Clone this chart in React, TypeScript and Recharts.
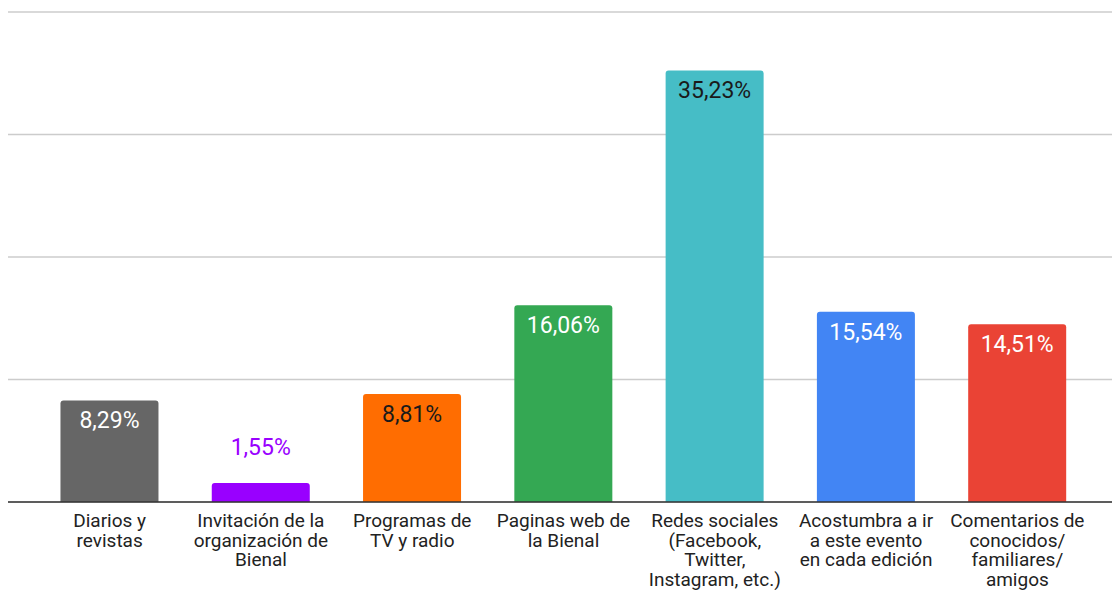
import { BarChart, Bar, XAxis, YAxis, CartesianGrid, Cell, LabelList } from "recharts"

const categories = [
    "Diarios y\nrevistas",
    "Invitación de la\norganización de\nBienal",
    "Programas de\nTV y radio",
    "Paginas web de\nla Bienal",
    "Redes sociales\n(Facebook,\nTwitter,\nInstagram, etc.)",
    "Acostumbra a ir\na este evento\nen cada edición",
    "Comentarios de\nconocidos/\nfamiliares/\namigos"
]

const values = [8.29, 1.55, 8.81, 16.06, 35.23, 15.54, 14.51]
const valueLabels = ["8,29%", "1,55%", "8,81%", "16,06%", "35,23%", "15,54%", "14,51%"]
const yTicks = [0, 10, 20, 30, 40]

const barColors = ["#666666", "#9900ff", "#ff6d01", "#34a853", "#46bdc6", "#4285f4", "#ea4335"]
const labelColors = ["#ffffff", "#9900ff", "#1a1a1a", "#ffffff", "#1a1a1a", "#ffffff", "#ffffff"]

const data = categories.map((c, i) => ({ name: c, value: values[i], label: valueLabels[i] }))

const FONT = "Roboto, Arial, sans-serif"

function CategoryTick(props: any) {
    const { x, y, payload } = props
    const lines = String(payload.value).split("\n")
    return (
        <text x={x} y={y} textAnchor="middle" fill="#222222" fontSize={19} fontFamily={FONT}>
            {lines.map((ln, i) => (
                <tspan key={i} x={x} dy={i === 0 ? 17 : 19.5}>{ln}</tspan>
            ))}
        </text>
    )
}

function ValueLabel(props: any) {
    const { x, y, width, height, index } = props
    const cx = x + width / 2
    const inside = height > 40
    return (
        <text
            x={cx}
            y={inside ? y + 28 : y - 28}
            textAnchor="middle"
            fill={inside ? labelColors[index] : barColors[index]}
            fontSize={23}
            fontFamily={FONT}
        >
            {valueLabels[index]}
        </text>
    )
}

export default function App() {
    return (
        <div style={{ position: "fixed", left: 0, top: 0, width: 1112, height: 590, background: "#fff" }}>
            <BarChart
                width={1112}
                height={590}
                data={data}
                margin={{ top: 12, right: 0, left: 8, bottom: 0 }}
                barCategoryGap="17.5%"
            >
                <CartesianGrid horizontal vertical={false} stroke="#cccccc" strokeWidth={1.5} />
                <YAxis hide domain={[0, 40]} ticks={yTicks} />
                <XAxis
                    dataKey="name"
                    interval={0}
                    height={88}
                    tickLine={false}
                    axisLine={{ stroke: "#333333", strokeWidth: 1.5 }}
                    padding={{ left: 26, right: 19 }}
                    tick={<CategoryTick />}
                />
                <Bar dataKey="value" radius={[3, 3, 0, 0]} isAnimationActive={false}>
                    {data.map((d, i) => (
                        <Cell key={i} fill={barColors[i]} />
                    ))}
                    <LabelList dataKey="label" content={<ValueLabel />} />
                </Bar>
            </BarChart>
        </div>
    )
}
